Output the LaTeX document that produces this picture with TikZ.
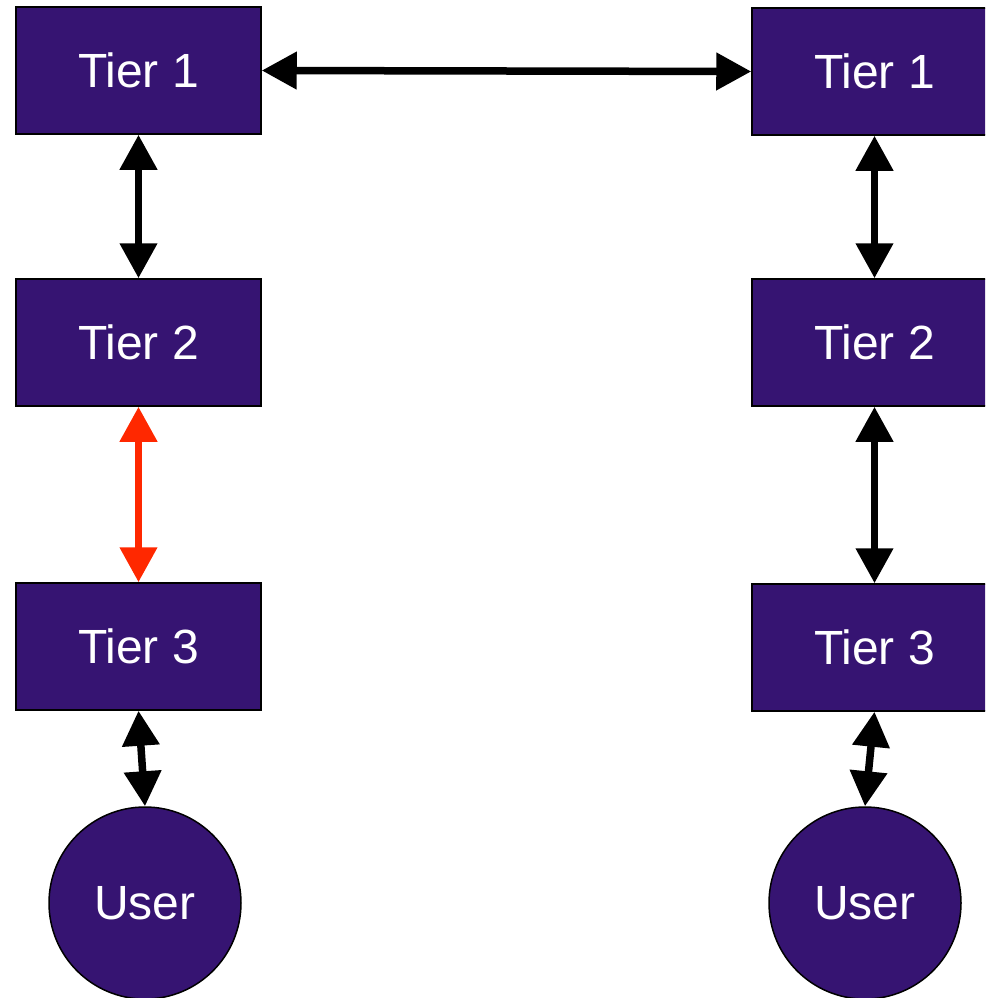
\documentclass[tikz,border=0pt]{standalone}
\usepackage{fontspec}
\setmainfont{Liberation Sans}
\usetikzlibrary{arrows.meta}
\definecolor{tierpurple}{RGB}{54,20,114}
\definecolor{linkred}{RGB}{255,40,0}
\tikzset{
  tierbox/.style={rectangle, draw=black, line width=1.5pt, fill=tierpurple, text=white,
    minimum width=245pt, minimum height=127pt, inner sep=0pt,
    font=\fontsize{48}{57}\selectfont},
  userdisc/.style={circle, draw=black, line width=1.5pt, fill=tierpurple, text=white,
    minimum size=192pt, inner sep=0pt, font=\fontsize{48}{57}\selectfont},
  link/.style={line width=7.5pt, draw=black, {Triangle[width=36pt,length=35pt]}-{Triangle[width=36pt,length=35pt]}},
}
\begin{document}
\begin{tikzpicture}[x=1pt,y=-1pt]
\clip (0,0) rectangle (985,998);
\useasboundingbox (0,0) rectangle (985,998);
\node[tierbox] (l1) at (138.5,70.5) {Tier 1};
\node[tierbox] (l2) at (138.5,342.5) {Tier 2};
\node[tierbox] (l3) at (138.5,646.5) {Tier 3};
\node[userdisc] (lu) at (145,903) {User};
\node[tierbox] (r1) at (874.5,71.5) {Tier 1};
\node[tierbox] (r2) at (874.5,342.5) {Tier 2};
\node[tierbox] (r3) at (874.5,647.5) {Tier 3};
\node[userdisc] (ru) at (865,903) {User};
\draw[link] (l1.east) -- (r1.west);
\draw[link] (l1.south) -- (l2.north);
\draw[link, draw=linkred, color=linkred] (l2.south) -- (l3.north);
\draw[link] (l3.south) -- (lu.north);
\draw[link] (r1.south) -- (r2.north);
\draw[link] (r2.south) -- (r3.north);
\draw[link] (r3.south) -- (ru.north);
\end{tikzpicture}
\end{document}
